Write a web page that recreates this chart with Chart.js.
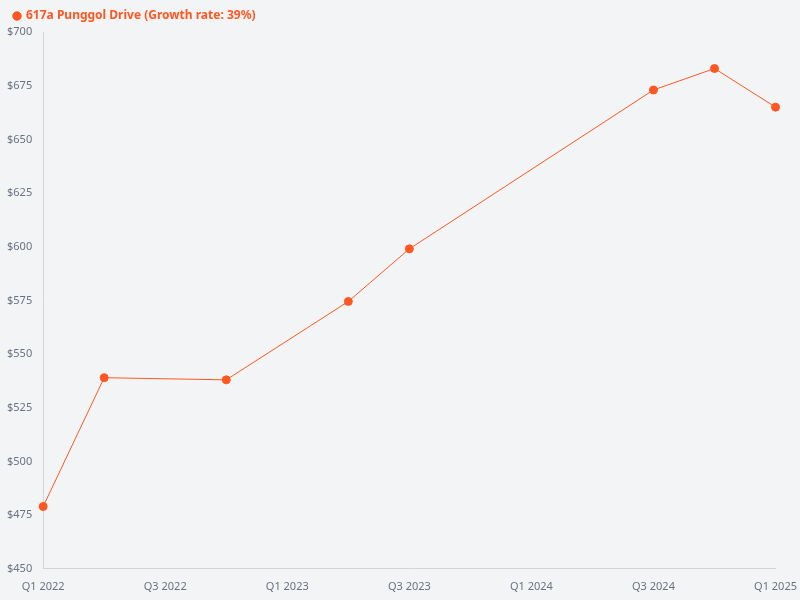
<!DOCTYPE html>
<html>
<head>
<meta charset="utf-8">
<script src="https://cdn.jsdelivr.net/npm/chart.js@4"></script>
<style>
  html, body { margin: 0; padding: 0; background: #f3f4f6; }
  #wrap { width: 800px; height: 600px; }
</style>
</head>
<body>
<div id="wrap"><canvas id="myChart"></canvas></div>
<script>
const quarters = ['Q1 2022', 'Q2 2022', 'Q3 2022', 'Q4 2022', 'Q1 2023', 'Q2 2023', 'Q3 2023', 'Q4 2023',
                  'Q1 2024', 'Q2 2024', 'Q3 2024', 'Q4 2024', 'Q1 2025'];
const prices = [479, 539, null, 538, null, 574.5, 599, null, null, null, 673, 683, 665];
const seriesLabel = '617a Punggol Drive (Growth rate: 39%)';
const orange = '#ff5722';

Chart.defaults.font.family = "'Noto Sans', sans-serif";
Chart.defaults.color = '#6b7280';

new Chart(document.getElementById('myChart').getContext('2d'), {
    type: 'line',
    data: {
        labels: quarters,
        datasets: [{
            label: seriesLabel,
            data: prices,
            borderColor: orange,
            backgroundColor: orange,
            borderWidth: 1,
            pointRadius: 4,
            pointHoverRadius: 5,
            spanGaps: true,
            tension: 0
        }]
    },
    options: {
        responsive: true,
        maintainAspectRatio: false,
        animation: false,
        layout: { padding: { left: 4, right: 14, bottom: 4 } },
        plugins: {
            legend: {
                align: 'start',
                labels: {
                    color: orange,
                    font: { size: 12, weight: 'bold' },
                    usePointStyle: true,
                    pointStyle: 'circle',
                    boxWidth: 6,
                    boxHeight: 6
                }
            }
        },
        scales: {
            x: {
                offset: false,
                grid: { display: false },
                border: { color: '#d1d5db' },
                ticks: {
                    font: { size: 11 },
                    maxRotation: 0,
                    autoSkip: false,
                    callback: (v, i) => (i % 2 === 0 ? quarters[i] : '')
                }
            },
            y: {
                min: 450,
                max: 700,
                grid: { display: false },
                border: { color: '#d1d5db' },
                ticks: {
                    stepSize: 25,
                    font: { size: 11 },
                    callback: v => '$' + v
                }
            }
        }
    }
});
</script>
</body>
</html>
